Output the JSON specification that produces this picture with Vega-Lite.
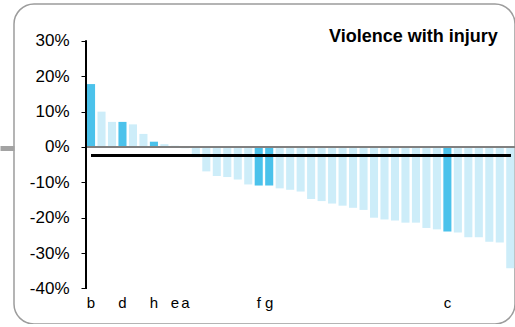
{
  "$schema": "https://vega.github.io/schema/vega-lite/v6.json",
  "width": 501,
  "height": 320,
  "autosize": "none",
  "padding": {"left": 14, "top": 4, "right": 0, "bottom": 0},
  "background": "white",
  "config": {
    "view": {"stroke": "#9c9c9c", "strokeWidth": 1.5, "cornerRadius": 20},
    "font": "Liberation Sans"
  },
  "data": {
    "values": [
      {"id": "b", "v": 0.178, "g": "hl"},
      {"id": "n2", "v": 0.100, "g": "o"},
      {"id": "n3", "v": 0.071, "g": "o"},
      {"id": "d", "v": 0.071, "g": "hl"},
      {"id": "n5", "v": 0.064, "g": "o"},
      {"id": "n6", "v": 0.037, "g": "o"},
      {"id": "h", "v": 0.015, "g": "hl"},
      {"id": "n8", "v": 0.008, "g": "o"},
      {"id": "e", "v": 0.003, "g": "hl"},
      {"id": "a", "v": -0.003, "g": "hl"},
      {"id": "n11", "v": -0.029, "g": "o"},
      {"id": "n12", "v": -0.069, "g": "o"},
      {"id": "n13", "v": -0.082, "g": "o"},
      {"id": "n14", "v": -0.085, "g": "o"},
      {"id": "n15", "v": -0.092, "g": "o"},
      {"id": "n16", "v": -0.106, "g": "o"},
      {"id": "f", "v": -0.109, "g": "hl"},
      {"id": "g", "v": -0.109, "g": "hl"},
      {"id": "n19", "v": -0.117, "g": "o"},
      {"id": "n20", "v": -0.121, "g": "o"},
      {"id": "n21", "v": -0.126, "g": "o"},
      {"id": "n22", "v": -0.147, "g": "o"},
      {"id": "n23", "v": -0.153, "g": "o"},
      {"id": "n24", "v": -0.160, "g": "o"},
      {"id": "n25", "v": -0.166, "g": "o"},
      {"id": "n26", "v": -0.172, "g": "o"},
      {"id": "n27", "v": -0.178, "g": "o"},
      {"id": "n28", "v": -0.200, "g": "o"},
      {"id": "n29", "v": -0.205, "g": "o"},
      {"id": "n30", "v": -0.208, "g": "o"},
      {"id": "n31", "v": -0.214, "g": "o"},
      {"id": "n32", "v": -0.214, "g": "o"},
      {"id": "n33", "v": -0.229, "g": "o"},
      {"id": "n34", "v": -0.233, "g": "o"},
      {"id": "c", "v": -0.239, "g": "hl"},
      {"id": "n36", "v": -0.242, "g": "o"},
      {"id": "n37", "v": -0.255, "g": "o"},
      {"id": "n38", "v": -0.255, "g": "o"},
      {"id": "n39", "v": -0.268, "g": "o"},
      {"id": "n40", "v": -0.270, "g": "o"},
      {"id": "n41", "v": -0.343, "g": "o"}
    ]
  },
  "resolve": {"axis": {"y": "independent"}},
  "layer": [
    {
      "mark": {"type": "bar"},
      "encoding": {
        "x": {
          "field": "id",
          "type": "nominal",
          "sort": null,
          "scale": {
            "domain": ["b","n2","n3","d","n5","n6","h","n8","e","a","n11","n12","n13","n14","n15","n16","f","g","n19","n20","n21","n22","n23","n24","n25","n26","n27","n28","n29","n30","n31","n32","n33","n34","c","n36","n37","n38","n39","n40","n41"],
            "range": [73, 500.3],
            "paddingInner": 0.23,
            "paddingOuter": 0
          },
          "axis": {
            "title": null,
            "orient": "bottom",
            "offset": -34,
            "domain": false,
            "ticks": false,
            "labelAngle": 0,
            "labelPadding": 5,
            "labelFontSize": 15,
            "labelFont": "Liberation Sans",
            "labelColor": "#000000",
            "labelExpr": "length(datum.value) == 1 ? datum.value : ''"
          }
        },
        "y": {
          "field": "v",
          "type": "quantitative",
          "scale": {"domain": [-0.5007, 0.4045], "nice": false, "zero": false},
          "axis": {
            "title": null,
            "orient": "left",
            "offset": -72,
            "values": [-0.4, -0.3, -0.2, -0.1, 0, 0.1, 0.2, 0.3],
            "labelExpr": "replace(format(datum.value, '.0%'), '\u2212', '-')",
            "grid": false,
            "domain": false,
            "tickSize": 5,
            "tickColor": "#000000",
            "tickWidth": 1,
            "labelPadding": 12,
            "labelFontSize": 17,
            "labelFont": "Liberation Sans",
            "labelColor": "#000000"
          }
        },
        "color": {
          "field": "g",
          "type": "nominal",
          "scale": {"domain": ["hl", "o"], "range": ["#4bc2eb", "#cdedf9"]},
          "legend": null
        }
      }
    },
    {
      "mark": {"type": "rule", "color": "#000000", "strokeWidth": 1, "xOffset": -1},
      "encoding": {
        "x": {"datum": "b", "bandPosition": 0},
        "y": {"datum": 0.3, "axis": null},
        "y2": {"datum": -0.4}
      }
    },
    {
      "mark": {"type": "rule", "color": "#808080", "strokeWidth": 1.5},
      "encoding": {
        "x": {"datum": "b", "bandPosition": 0},
        "x2": {"datum": "n41", "bandPosition": 1},
        "y": {
          "datum": 0,
          "axis": {
            "title": null,
            "orient": "left",
            "offset": 0,
            "values": [-0.003],
            "labels": false,
            "domain": false,
            "grid": false,
            "tickSize": 14,
            "tickWidth": 5,
            "tickCap": "butt",
            "tickColor": "#a3a3a3"
          }
        }
      }
    },
    {
      "mark": {"type": "rule", "color": "#000000", "strokeWidth": 2},
      "encoding": {
        "x": {"datum": "b"},
        "x2": {"datum": "n41"},
        "y": {"datum": -0.023, "axis": null}
      }
    },
    {
      "data": {"values": [{"label": "Violence with injury", "at": "n40", "yv": 0.3}]},
      "mark": {"type": "text", "align": "right", "baseline": "alphabetic", "dx": -2, "dy": 1.5, "font": "Liberation Sans", "fontSize": 18, "fontWeight": "bold", "color": "#000000"},
      "encoding": {
        "x": {"field": "at", "type": "nominal"},
        "y": {"field": "yv", "type": "quantitative", "axis": null},
        "text": {"field": "label"}
      }
    }
  ]
}
